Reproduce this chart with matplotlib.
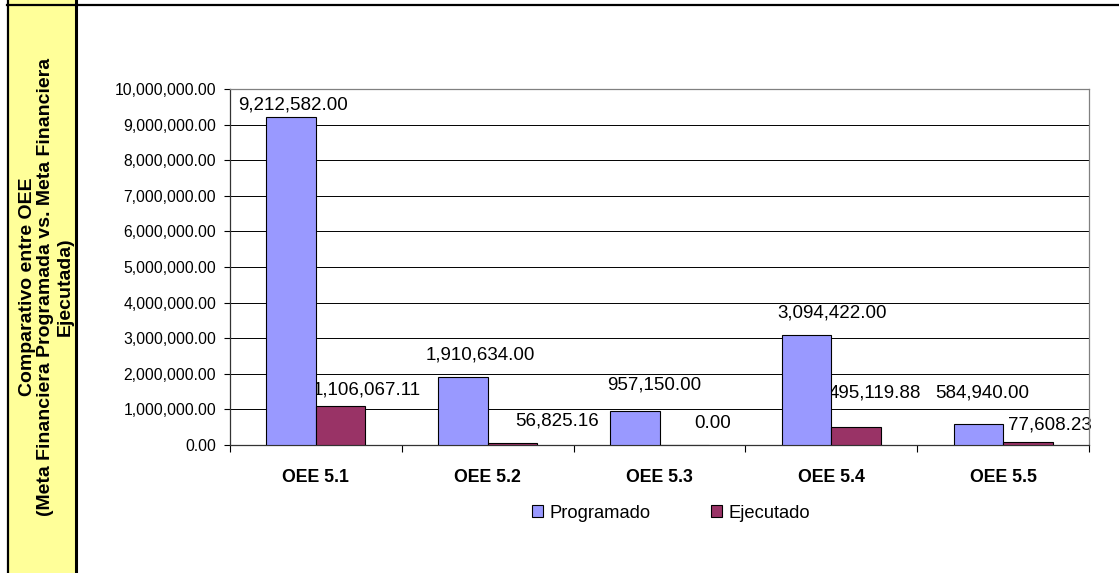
import matplotlib
matplotlib.use("Agg")
import matplotlib.pyplot as plt
import numpy as np
from matplotlib.patches import Patch, Rectangle
from matplotlib.lines import Line2D
from matplotlib.ticker import FuncFormatter, FixedLocator

plt.rcParams["font.family"] = ["Liberation Sans", "DejaVu Sans"]

categories = ["OEE 5.1", "OEE 5.2", "OEE 5.3", "OEE 5.4", "OEE 5.5"]
programado = [9212582.00, 1910634.00, 957150.00, 3094422.00, 584940.00]
ejecutado = [1106067.11, 56825.16, 0.00, 495119.88, 77608.23]
series_names = ["Programado", "Ejecutado"]
side_title = "Comparativo entre OEE\n(Meta Financiera Programada vs. Meta Financiera\nEjecutada)"

# label nudges in pixels (dx, dy of label centre from bar top centre)
prog_offsets = [(2, -12), (17, -22), (19, -26), (26, -22), (4, -31)]
ejec_offsets = [(26, -16), (45, -22), (28, -22), (19, -34), (22, -17)]

W, H = 1119, 573
fig = plt.figure(figsize=(W / 100, H / 100), dpi=100)

# left yellow cell and table lines
fig.patches.append(Rectangle((9 / W, 0), 66 / W, 1, transform=fig.transFigure,
                             facecolor="#FFFF99", edgecolor="none", zorder=0))
fig.lines.append(Line2D([7.5 / W, 7.5 / W], [0, 1], transform=fig.transFigure, color="black", lw=1.6))
fig.lines.append(Line2D([76 / W, 76 / W], [0, 1], transform=fig.transFigure, color="black", lw=2.2))
fig.lines.append(Line2D([7 / W, 1], [1 - 4.5 / H, 1 - 4.5 / H], transform=fig.transFigure, color="black", lw=1.6))

fig.text(46 / W, 1 - 287 / H, side_title, rotation=90, ha="center", va="center",
         multialignment="center", fontsize=14, fontweight="bold", linespacing=1.15)

ax = fig.add_axes([230 / W, 128 / H, 859 / W, 356 / H])
x = np.arange(len(categories))
w = 0.288
ax.bar(x - w / 2, programado, w, color="#9999FF", edgecolor="black", linewidth=0.8, zorder=3)
ax.bar(x + w / 2, ejecutado, w, color="#993366", edgecolor="black", linewidth=0.8, zorder=3)

for xi, v, (dx, dy) in zip(x - w / 2, programado, prog_offsets):
    ax.annotate(f"{v:,.2f}", (xi, v), xytext=(dx * 0.72, -dy * 0.72), textcoords="offset points",
                ha="center", va="center", fontsize=13.5, zorder=2)
for xi, v, (dx, dy) in zip(x + w / 2, ejecutado, ejec_offsets):
    ax.annotate(f"{v:,.2f}", (xi, v), xytext=(dx * 0.72, -dy * 0.72), textcoords="offset points",
                ha="center", va="center", fontsize=13.5, zorder=2)

ax.set_xlim(-0.5, len(categories) - 0.5)
ax.set_ylim(0, 10000000)
ax.set_yticks(np.arange(0, 10000001, 1000000))
ax.yaxis.set_major_formatter(FuncFormatter(lambda v, p: f"{v:,.2f}"))
ax.grid(axis="y", color="black", linewidth=0.7, zorder=1)
ax.tick_params(axis="y", length=4, width=0.8, pad=6, labelsize=11.3, direction="out")

ax.set_xticks(x)
ax.set_xticklabels(categories, fontweight="bold", fontsize=12.8)
ax.xaxis.set_minor_locator(FixedLocator(np.arange(-0.5, len(categories), 1.0)))
ax.tick_params(axis="x", which="major", length=0, pad=17)
ax.tick_params(axis="x", which="minor", length=5, width=0.8, direction="out")

for s in ["top", "right"]:
    ax.spines[s].set_color("#808080")
    ax.spines[s].set_linewidth(0.9)
for s in ["left", "bottom"]:
    ax.spines[s].set_color("#333333")
    ax.spines[s].set_linewidth(0.9)

handles = [Patch(facecolor="#9999FF", edgecolor="black", linewidth=0.8),
           Patch(facecolor="#993366", edgecolor="black", linewidth=0.8)]
fig.legend(handles, series_names, loc="center", bbox_to_anchor=(671 / W, 1 - 513 / H), ncol=2,
           frameon=False, fontsize=13.2, handlelength=0.6, handleheight=0.6,
           handletextpad=0.35, columnspacing=3.3)

fig.savefig("out.png", dpi=100)
